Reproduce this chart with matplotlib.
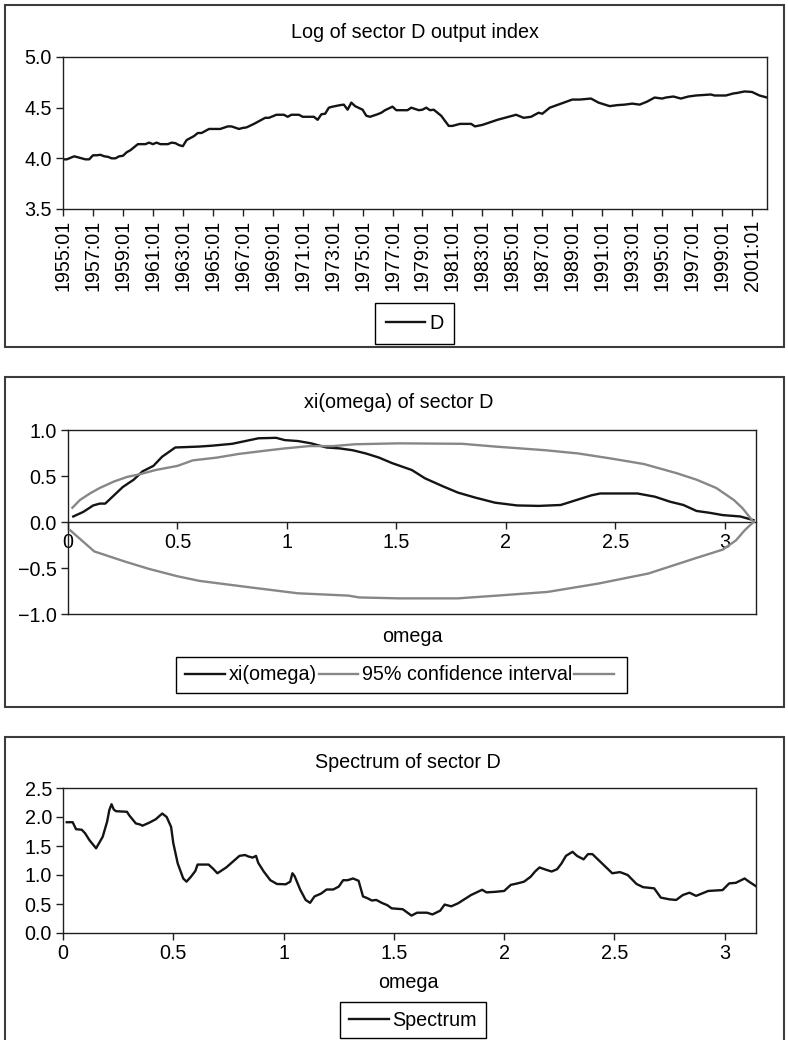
import matplotlib
matplotlib.use('Agg')
import matplotlib.pyplot as plt
from matplotlib.patches import Rectangle
from matplotlib.lines import Line2D
import numpy as np

plt.rcParams['font.family'] = ['Liberation Sans', 'DejaVu Sans']
plt.rcParams['axes.unicode_minus'] = True

# ---------------- data ----------------
d_quarters = ["1955:01","1955:02","1955:04","1956:01","1956:02","1956:03","1956:04",
              "1957:01","1957:02","1957:03","1957:04","1958:01","1958:02","1958:03","1958:04",
              "1959:01","1959:02","1959:03","1960:01","1960:02","1960:03","1960:04",
              "1961:01","1961:02","1961:03","1962:01","1962:02","1962:03","1962:04",
              "1963:01","1963:02","1963:03","1963:04","1964:01","1964:02","1964:04",
              "1965:01","1965:03","1966:01","1966:02","1966:04","1967:01","1967:02","1967:04",
              "1968:02","1968:03","1968:04","1969:02","1969:04","1970:01","1970:02","1970:04",
              "1971:01","1971:04","1972:01","1972:02","1972:03","1972:04","1973:01","1973:03",
              "1973:04","1974:01","1974:02","1974:03","1975:01","1975:02","1975:03",
              "1976:01","1976:02","1976:03","1977:01","1977:02","1978:01","1978:02","1978:04",
              "1979:01","1979:02","1979:03","1979:04","1980:02","1980:04","1981:01","1981:03",
              "1982:02","1982:03","1983:01","1983:03","1984:01","1984:03","1985:02","1985:04",
              "1986:02","1986:04","1987:01","1987:03","1988:02","1989:01","1989:03","1990:02",
              "1990:04","1991:03","1992:01","1992:03","1993:01","1993:03","1994:01","1994:03",
              "1995:01","1995:02","1995:04","1996:02","1996:04","1997:02","1998:02","1998:03",
              "1999:02","1999:04","2000:01","2000:03","2001:01","2001:03","2002:01"]
d_values = [3.99, 3.99, 4.02, 4.01, 4.00, 3.99, 3.99,
            4.03, 4.03, 4.035, 4.02, 4.015, 4.00, 4.00, 4.02,
            4.025, 4.06, 4.08, 4.14, 4.14, 4.14, 4.155,
            4.14, 4.155, 4.14, 4.14, 4.155, 4.15, 4.13,
            4.12, 4.18, 4.20, 4.22, 4.25, 4.25, 4.29,
            4.29, 4.29, 4.315, 4.315, 4.29, 4.30, 4.305, 4.34,
            4.38, 4.40, 4.40, 4.43, 4.43, 4.41, 4.43, 4.43,
            4.41, 4.41, 4.38, 4.435, 4.44, 4.50, 4.51, 4.525,
            4.53, 4.48, 4.55, 4.515, 4.48, 4.42, 4.41,
            4.435, 4.45, 4.475, 4.51, 4.475, 4.475, 4.50, 4.475,
            4.48, 4.50, 4.475, 4.48, 4.42, 4.32, 4.32, 4.34,
            4.34, 4.315, 4.33, 4.355, 4.38, 4.40, 4.43, 4.40,
            4.41, 4.45, 4.44, 4.50, 4.54, 4.58, 4.58, 4.59,
            4.55, 4.515, 4.525, 4.53, 4.54, 4.53, 4.56, 4.60,
            4.59, 4.60, 4.61, 4.59, 4.61, 4.62, 4.63, 4.62,
            4.62, 4.64, 4.645, 4.66, 4.655, 4.62, 4.60]
assert len(d_quarters) == len(d_values)

xi_omega = [0.024, 0.07, 0.115, 0.145, 0.17, 0.21, 0.25, 0.30, 0.34, 0.39, 0.43, 0.46, 0.49,
            0.60, 0.66, 0.75, 0.81, 0.87, 0.95, 0.99, 1.05, 1.11, 1.18, 1.24, 1.30, 1.36,
            1.42, 1.48, 1.57, 1.63, 1.71, 1.78, 1.86, 1.95, 2.05, 2.15, 2.25, 2.33, 2.39,
            2.43, 2.60, 2.68, 2.75, 2.81, 2.87, 2.93, 2.99, 3.07, 3.13]
xi_values = [0.06, 0.11, 0.18, 0.20, 0.20, 0.29, 0.38, 0.46, 0.55, 0.61, 0.71, 0.76, 0.81,
             0.82, 0.83, 0.85, 0.88, 0.91, 0.915, 0.89, 0.88, 0.855, 0.81, 0.80, 0.78, 0.745,
             0.70, 0.64, 0.565, 0.475, 0.39, 0.32, 0.265, 0.21, 0.18, 0.175, 0.185, 0.245, 0.29,
             0.31, 0.31, 0.275, 0.22, 0.185, 0.12, 0.10, 0.075, 0.06, 0.02]

ci_up_omega = [0.02, 0.055, 0.10, 0.145, 0.21, 0.27, 0.33, 0.40, 0.50, 0.57, 0.68, 0.78, 0.90,
               0.99, 1.10, 1.21, 1.31, 1.51, 1.80, 1.95, 2.18, 2.33, 2.48, 2.63, 2.78, 2.87,
               2.96, 3.04, 3.08, 3.13]
ci_upper = [0.155, 0.24, 0.31, 0.37, 0.44, 0.49, 0.52, 0.565, 0.61, 0.67, 0.70, 0.74, 0.775,
            0.80, 0.825, 0.825, 0.845, 0.855, 0.85, 0.82, 0.78, 0.745, 0.69, 0.63, 0.53, 0.46,
            0.37, 0.24, 0.15, 0.0]
ci_lo_omega = [0.01, 0.12, 0.26, 0.37, 0.50, 0.60, 0.83, 1.05, 1.28, 1.33, 1.51, 1.78, 1.96,
               2.19, 2.42, 2.65, 2.87, 2.99, 3.05, 3.09, 3.13]
ci_lower = [-0.09, -0.32, -0.43, -0.51, -0.59, -0.64, -0.71, -0.775, -0.80, -0.82, -0.83, -0.83,
            -0.80, -0.76, -0.67, -0.56, -0.39, -0.30, -0.20, -0.09, 0.0]

sp_omega = [0.017, 0.044, 0.059, 0.085, 0.10, 0.12, 0.15, 0.165, 0.18, 0.20, 0.21, 0.22, 0.23,
            0.24, 0.29, 0.30, 0.33, 0.35, 0.36, 0.39, 0.42, 0.45, 0.47, 0.49, 0.50, 0.52, 0.545,
            0.56, 0.58, 0.60, 0.61, 0.66, 0.68, 0.70, 0.74, 0.77, 0.80, 0.825, 0.84, 0.86, 0.875,
            0.885, 0.91, 0.94, 0.97, 1.01, 1.03, 1.04, 1.05, 1.075, 1.10, 1.12, 1.14, 1.17, 1.195,
            1.225, 1.25, 1.27, 1.29, 1.315, 1.34, 1.36, 1.38, 1.40, 1.42, 1.445, 1.47, 1.49, 1.54,
            1.58, 1.605, 1.65, 1.675, 1.71, 1.73, 1.76, 1.79, 1.815, 1.85, 1.90, 1.92, 1.96, 2.00,
            2.03, 2.06, 2.09, 2.12, 2.14, 2.16, 2.19, 2.215, 2.24, 2.26, 2.28, 2.31, 2.33, 2.36,
            2.38, 2.40, 2.43, 2.46, 2.49, 2.525, 2.56, 2.60, 2.63, 2.68, 2.71, 2.75, 2.78, 2.81,
            2.84, 2.87, 2.925, 2.99, 3.02, 3.05, 3.09, 3.11, 3.14]
sp_values = [1.91, 1.91, 1.79, 1.78, 1.72, 1.60, 1.46, 1.56, 1.66, 1.92, 2.12, 2.22, 2.13,
             2.10, 2.09, 2.03, 1.89, 1.87, 1.85, 1.90, 1.96, 2.06, 2.00, 1.83, 1.55, 1.20, 0.94,
             0.885, 0.97, 1.07, 1.18, 1.18, 1.11, 1.03, 1.13, 1.23, 1.33, 1.345, 1.32, 1.30, 1.33,
             1.21, 1.06, 0.91, 0.845, 0.84, 0.885, 1.03, 0.98, 0.75, 0.57, 0.52, 0.63, 0.68, 0.75,
             0.75, 0.80, 0.91, 0.91, 0.94, 0.90, 0.63, 0.60, 0.56, 0.57, 0.52, 0.48, 0.425, 0.41,
             0.30, 0.35, 0.35, 0.32, 0.385, 0.49, 0.46, 0.51, 0.57, 0.655, 0.745, 0.70, 0.71, 0.725,
             0.83, 0.855, 0.885, 0.97, 1.06, 1.13, 1.09, 1.06, 1.10, 1.20, 1.33, 1.40, 1.33, 1.27,
             1.36, 1.36, 1.25, 1.14, 1.03, 1.05, 1.00, 0.845, 0.79, 0.77, 0.61, 0.58, 0.57, 0.655,
             0.695, 0.64, 0.725, 0.74, 0.855, 0.865, 0.94, 0.885, 0.81]
assert len(sp_omega) == len(sp_values)

omega_ticks = [0, 0.5, 1, 1.5, 2, 2.5, 3]
omega_ticklabels = ["0", "0.5", "1", "1.5", "2", "2.5", "3"]

# ---------------- layout ----------------
FS = 14.2
W, H = 788, 1040
BLACK = '#141414'
GREY = '#878787'
fig = plt.figure(figsize=(W / 100, H / 100), dpi=100)


def rect(l, t, r, b):
    return [l / W, 1 - b / H, (r - l) / W, (b - t) / H]


def fxy(x, y):
    return x / W, 1 - y / H


for (t, b) in [(5, 347), (377, 707), (737, 1060)]:
    fig.patches.append(Rectangle((5 / W, 1 - b / H), (784 - 5) / W, (b - t) / H,
                                 transform=fig.transFigure, fill=False,
                                 ec='#3c3c3c', lw=1.5))


def style(ax):
    for s in ax.spines.values():
        s.set_color('#202020')
        s.set_linewidth(1.0)
    ax.tick_params(direction='out', length=5, width=1, labelsize=FS, pad=3,
                   color='#202020')


def legend(ax, handles, labels, cx, cy, bp=0.48):
    lg = ax.legend(handles, labels, loc='center', bbox_to_anchor=fxy(cx, cy),
                   bbox_transform=fig.transFigure, ncol=len(labels), fontsize=FS,
                   frameon=True, fancybox=False, framealpha=1, edgecolor='black',
                   borderpad=bp, handlelength=2.0, handletextpad=0.2,
                   columnspacing=0.1, borderaxespad=0)
    lg.get_frame().set_linewidth(1.0)
    return lg


# ---------------- panel 1 ----------------
def q_index(q):
    y, p = q.split(':')
    return (int(y) - 1955) * 4 + int(p) - 1


ax1 = fig.add_axes(rect(63, 57, 767, 209))
h1, = ax1.plot([q_index(q) for q in d_quarters], d_values, color=BLACK, lw=1.7)
ax1.set_xlim(0, 188)
ax1.set_ylim(3.5, 5.0)
ax1.set_yticks([3.5, 4.0, 4.5, 5.0])
ax1.set_yticklabels(["3.5", "4.0", "4.5", "5.0"])
tick_q = [f"{y}:01" for y in range(1955, 2002, 2)]
ax1.set_xticks([q_index(q) for q in tick_q])
ax1.set_xticklabels(tick_q, rotation=90)
style(ax1)
fig.text(*fxy(415, 32), "Log of sector D output index", ha='center', va='center', fontsize=FS)
legend(ax1, [h1], ["D"], 414.5, 323.5, bp=0.55)

# ---------------- panel 2 ----------------
ax2 = fig.add_axes(rect(68, 430, 756, 614))
h2a, = ax2.plot(xi_omega, xi_values, color=BLACK, lw=1.7, zorder=2)
h2b, = ax2.plot(ci_up_omega, ci_upper, color=GREY, lw=1.7, zorder=3)
h2c, = ax2.plot(ci_lo_omega, ci_lower, color=GREY, lw=1.7, zorder=3)
ax2.set_xlim(0, np.pi)
ax2.set_ylim(-1, 1)
ax2.spines['bottom'].set_position(('data', 0))
ax2.add_line(Line2D([0, 1], [0, 0], transform=ax2.transAxes, color='#202020', lw=1.0,
                    clip_on=False))
ax2.set_xticks(omega_ticks)
ax2.set_xticklabels(omega_ticklabels)
ax2.set_yticks([-1, -0.5, 0, 0.5, 1])
ax2.set_yticklabels(["\u22121.0", "\u22120.5", "0.0", "0.5", "1.0"])
style(ax2)
fig.text(*fxy(399, 403), "xi(omega) of sector D", ha='center', va='center', fontsize=FS)
fig.text(*fxy(412, 637), "omega", ha='center', va='center', fontsize=FS)
legend(ax2, [h2a, h2b, h2c], ["xi(omega)", "95% confidence interval", ""], 401.5, 675, bp=0.45)

# ---------------- panel 3 ----------------
ax3 = fig.add_axes(rect(63, 788, 756, 933))
h3, = ax3.plot(sp_omega, sp_values, color=BLACK, lw=1.7)
ax3.set_xlim(0, np.pi)
ax3.set_ylim(0, 2.5)
ax3.set_xticks(omega_ticks)
ax3.set_xticklabels(omega_ticklabels)
ax3.set_yticks([0, 0.5, 1.0, 1.5, 2.0, 2.5])
ax3.set_yticklabels(["0.0", "0.5", "1.0", "1.5", "2.0", "2.5"])
style(ax3)
fig.text(*fxy(408, 762), "Spectrum of sector D", ha='center', va='center', fontsize=FS)
fig.text(*fxy(408, 982), "omega", ha='center', va='center', fontsize=FS)
legend(ax3, [h3], ["Spectrum"], 413, 1020, bp=0.45)

fig.savefig("out.png", dpi=100)
